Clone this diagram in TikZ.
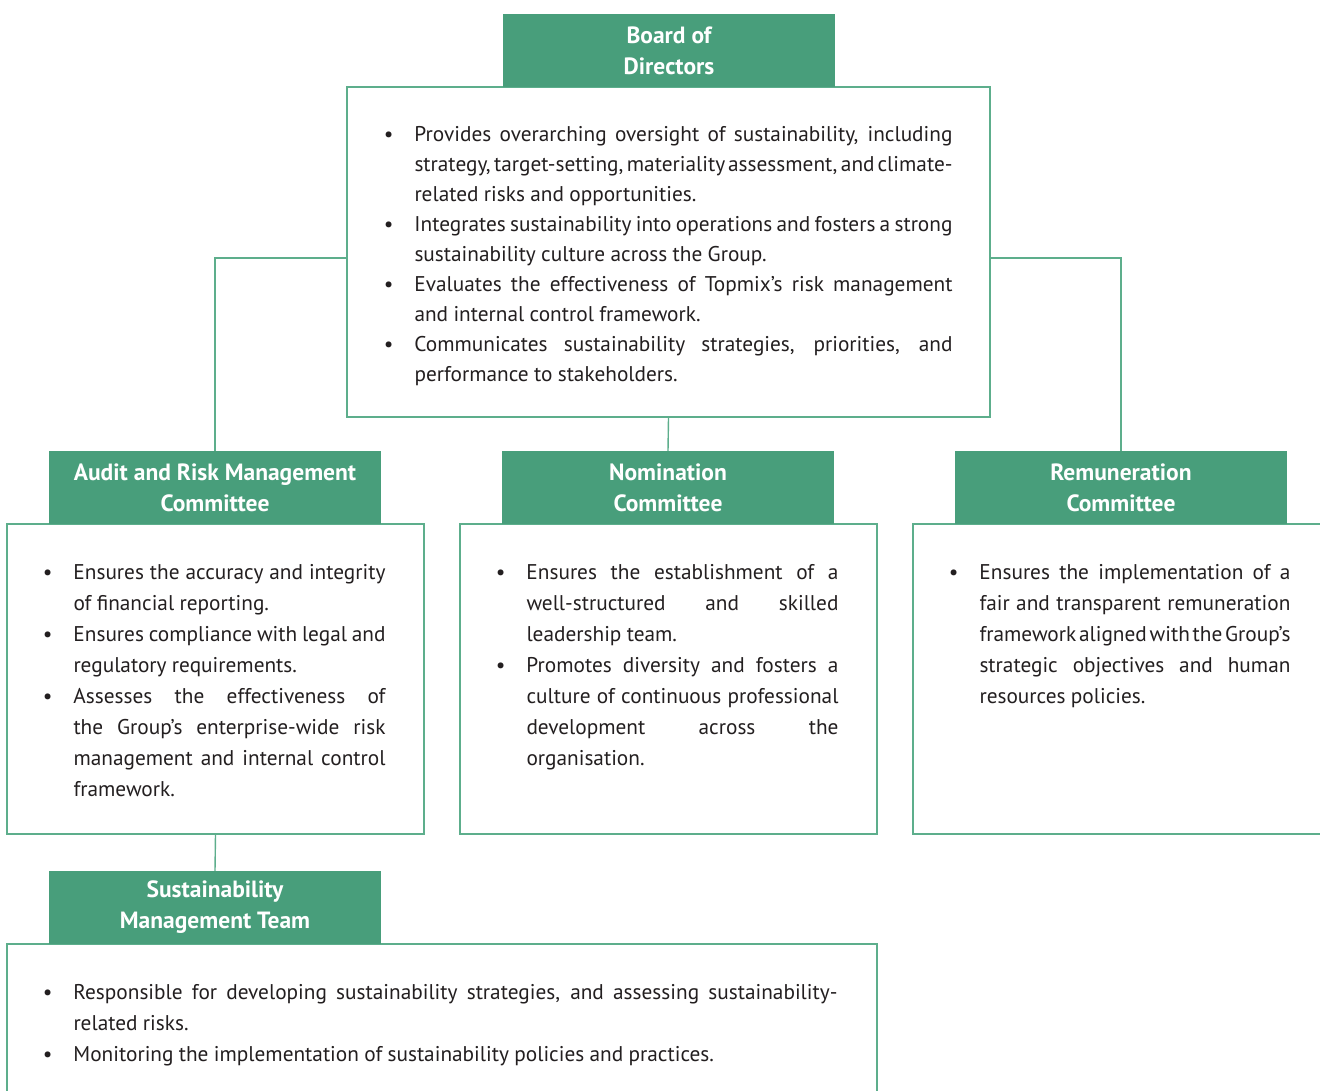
\documentclass[tikz,border=0pt]{standalone}
\usepackage{fontspec}
\setmainfont{PT Sans}
\usepackage{xcolor}
\definecolor{boardgreen}{HTML}{489E7B}
\definecolor{edgegreen}{HTML}{5DAE8C}
\definecolor{inktext}{HTML}{231F20}
\newcommand{\bul}{\par\noindent\strut\llap{\textbullet\hspace{21pt}}}
\newcommand{\fl}[1]{\hbox to\hsize{#1}\linebreak}
\newcommand{\tightspace}{\spaceskip=0.25em plus 10em minus 0.15em\relax}
\hbadness=10000
\hfuzz=30pt
\begin{document}
\begin{tikzpicture}[x=1pt, y=-1pt,
    head/.style={fill=boardgreen, text=white, minimum width=332pt, minimum height=73pt,
        align=center, inner sep=0pt, font=\bfseries\fontsize{23.5}{31}\selectfont},
    panel/.style={draw=edgegreen, line width=1.4pt, fill=white, inner sep=0pt},
    txt/.style={anchor=north west, inner sep=0pt, align=justify, text=inktext,
        font=\fontsize{21.3}{31}\selectfont\tightspace},
    link/.style={draw=edgegreen, line width=1.4pt}]

    \useasboundingbox (0,0) rectangle (1320,1091);
    \clip (0,0) rectangle (1320,1091);

    % Board of Directors
    \node[panel, minimum width=643pt, minimum height=330pt] (boardbox) at (668.5,252) {};
    \node[head] (board) at (669,50.5) {Board of\\Directors};
    \node[txt, text width=538pt, font=\fontsize{21.3}{30}\selectfont\tightspace] (boardtxt)
        at ([xshift=68pt, yshift=-25pt]boardbox.north west) {%
        \bul\fl{Provides overarching oversight of sustainability, including}%
        \fl{strategy, target-setting, materiality assessment, and climate-}%
        related risks and opportunities.
        \bul\fl{Integrates sustainability into operations and fosters a strong}%
        sustainability culture across the Group.
        \bul\fl{Evaluates the effectiveness of Topmix’s risk management}%
        and internal control framework.
        \bul\fl{Communicates sustainability strategies, priorities, and}%
        performance to stakeholders.};

    % Committees
    \node[panel, minimum width=417pt, minimum height=310pt] (auditbox) at (215.5,679) {};
    \node[head] (audit) at (215,487.5) {Audit and Risk Management\\Committee};
    \node[txt, text width=312pt] (audittxt) at ([xshift=67pt, yshift=-25pt]auditbox.north west) {%
        \bul\fl{Ensures the accuracy and integrity}%
        of financial reporting.
        \bul\fl{Ensures compliance with legal and}%
        regulatory requirements.
        \bul\fl{Assesses the effectiveness of}%
        \fl{the Group’s enterprise-wide risk}%
        \fl{management and internal control}%
        framework.};

    \node[panel, minimum width=417pt, minimum height=310pt] (nominbox) at (668.5,679) {};
    \node[head] (nomin) at (668,487.5) {Nomination\\Committee};
    \node[txt, text width=312pt] (nomintxt) at ([xshift=67pt, yshift=-25pt]nominbox.north west) {%
        \bul\fl{Ensures the establishment of a}%
        \fl{well-structured and skilled}%
        leadership team.
        \bul\fl{Promotes diversity and fosters a}%
        \fl{culture of continuous professional}%
        \fl{development across the}%
        organisation.};

    \node[panel, minimum width=417pt, minimum height=310pt] (remunbox) at (1121.5,679) {};
    \node[head] (remun) at (1121,487.5) {Remuneration\\Committee};
    \node[txt, text width=311pt] (remuntxt) at ([xshift=67pt, yshift=-25pt]remunbox.north west) {%
        \bul\fl{Ensures the implementation of a}%
        \fl{fair and transparent remuneration}%
        \fl{framework aligned with the Group’s}%
        \fl{strategic objectives and human}%
        resources policies.};

    % Sustainability Management Team
    \node[panel, minimum width=870pt, minimum height=180pt] (sustbox) at (442,1034) {};
    \node[head] (sust) at (215,907.5) {Sustainability\\Management Team};
    \node[txt, text width=764pt] (susttxt) at ([xshift=67pt, yshift=-25pt]sustbox.north west) {%
        \bul\fl{Responsible for developing sustainability strategies, and assessing sustainability-}%
        related risks.
        \bul Monitoring the implementation of sustainability policies and practices.};

    % Connectors
    \draw[link] ([yshift=-6pt]boardbox.west) -| (audit.north);
    \draw[link] ([yshift=-6pt]boardbox.east) -| (remun.north);
    \draw[link] (boardbox.south) -- (nomin.north);
    \draw[link] (auditbox.south) -- (sust.north);

\end{tikzpicture}
\end{document}
